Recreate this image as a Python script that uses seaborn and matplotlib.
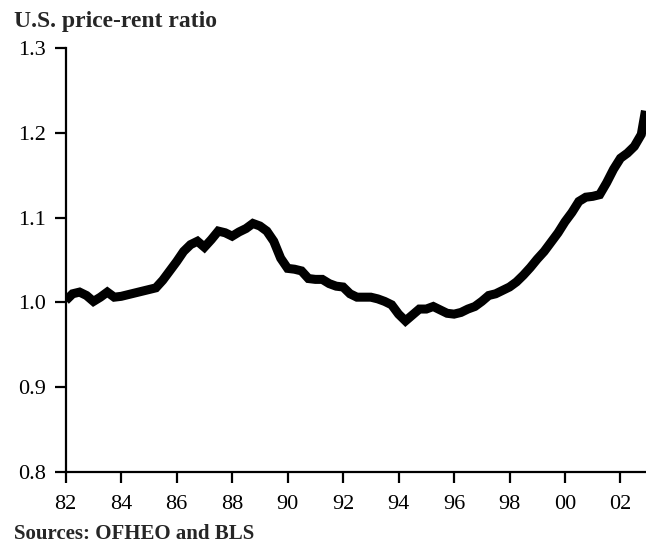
import matplotlib
matplotlib.use("Agg")
import matplotlib.pyplot as plt
import seaborn as sns
import numpy as np
import pandas as pd

# Price-rent ratio (quarterly, 1982 to late 2002)
anos = [1982.0, 1982.25, 1982.5, 1982.75, 1983.0, 1983.25, 1983.5, 1983.75,
        1984.0, 1984.25, 1984.5, 1984.75, 1985.0, 1985.25, 1985.5, 1985.75,
        1986.0, 1986.25, 1986.5, 1986.75, 1987.0, 1987.25, 1987.5, 1987.75,
        1988.0, 1988.25, 1988.5, 1988.75, 1989.0, 1989.25, 1989.5, 1989.75,
        1990.0, 1990.25, 1990.5, 1990.75, 1991.0, 1991.25, 1991.5, 1991.75,
        1992.0, 1992.25, 1992.5, 1992.75, 1993.0, 1993.25, 1993.5, 1993.75,
        1994.0, 1994.25, 1994.5, 1994.75, 1995.0, 1995.25, 1995.5, 1995.75,
        1996.0, 1996.25, 1996.5, 1996.75, 1997.0, 1997.25, 1997.5, 1997.75,
        1998.0, 1998.25, 1998.5, 1998.75, 1999.0, 1999.25, 1999.5, 1999.75,
        2000.0, 2000.25, 2000.5, 2000.75, 2001.0, 2001.25, 2001.5, 2001.75,
        2002.0, 2002.25, 2002.5, 2002.75, 2002.9]
ratio = [1.002, 1.010, 1.012, 1.008, 1.001, 1.006, 1.012, 1.006,
         1.007, 1.009, 1.011, 1.013, 1.015, 1.017, 1.026, 1.037,
         1.048, 1.060, 1.068, 1.072, 1.065, 1.074, 1.084, 1.082,
         1.078, 1.083, 1.087, 1.093, 1.090, 1.084, 1.072, 1.052,
         1.040, 1.039, 1.037, 1.028, 1.027, 1.027, 1.022, 1.019,
         1.018, 1.010, 1.006, 1.006, 1.006, 1.004, 1.001, 0.997,
         0.986, 0.978, 0.985, 0.992, 0.992, 0.995, 0.991, 0.987,
         0.986, 0.988, 0.992, 0.995, 1.001, 1.008, 1.010, 1.014,
         1.018, 1.024, 1.032, 1.041, 1.051, 1.060, 1.071, 1.082,
         1.095, 1.106, 1.119, 1.124, 1.125, 1.127, 1.141, 1.157,
         1.170, 1.176, 1.184, 1.198, 1.226]

ticks_x = [1982, 1984, 1986, 1988, 1990, 1992, 1994, 1996, 1998, 2000, 2002]
rotulos_x = ["82", "84", "86", "88", "90", "92", "94", "96", "98", "00", "02"]
ticks_y = [0.8, 0.9, 1.0, 1.1, 1.2, 1.3]

dados = pd.DataFrame({"ano": anos, "ratio": ratio})

sns.set_style("ticks")
plt.rcParams["font.family"] = ["Liberation Serif", "DejaVu Serif"]

fig = plt.figure(figsize=(6.46, 5.46), dpi=100)
ax = fig.add_axes([0.1017, 0.136, 0.8983, 0.776])

sns.lineplot(data=dados, x="ano", y="ratio", ax=ax, color="black",
             linewidth=6.5, solid_joinstyle="miter", solid_capstyle="butt")

ax.set_xlim(1982, 2002.92)
ax.set_ylim(0.8, 1.3)
ax.set_xticks(ticks_x)
ax.set_xticklabels(rotulos_x)
ax.set_yticks(ticks_y)
ax.set_yticklabels([f"{v:.1f}" for v in ticks_y])
ax.set_xlabel("")
ax.set_ylabel("")

for lado in ["top", "right"]:
    ax.spines[lado].set_visible(False)
for lado in ["left", "bottom"]:
    ax.spines[lado].set_linewidth(1.6)
    ax.spines[lado].set_color("black")

ax.tick_params(axis="both", direction="out", length=8, width=1.6,
               colors="black", labelsize=16)
ax.tick_params(axis="x", pad=9)
ax.tick_params(axis="y", pad=6)

fig.text(0.022, 0.951, "U.S. price-rent ratio", fontsize=17, fontweight="bold",
         ha="left", va="baseline")
# fonte dos dados no rodapé
fig.text(0.022, 0.003, "Sources: OFHEO and BLS", fontsize=15, fontweight="bold",
         ha="left", va="bottom")

fig.savefig("out.png", dpi=100, facecolor="white")
